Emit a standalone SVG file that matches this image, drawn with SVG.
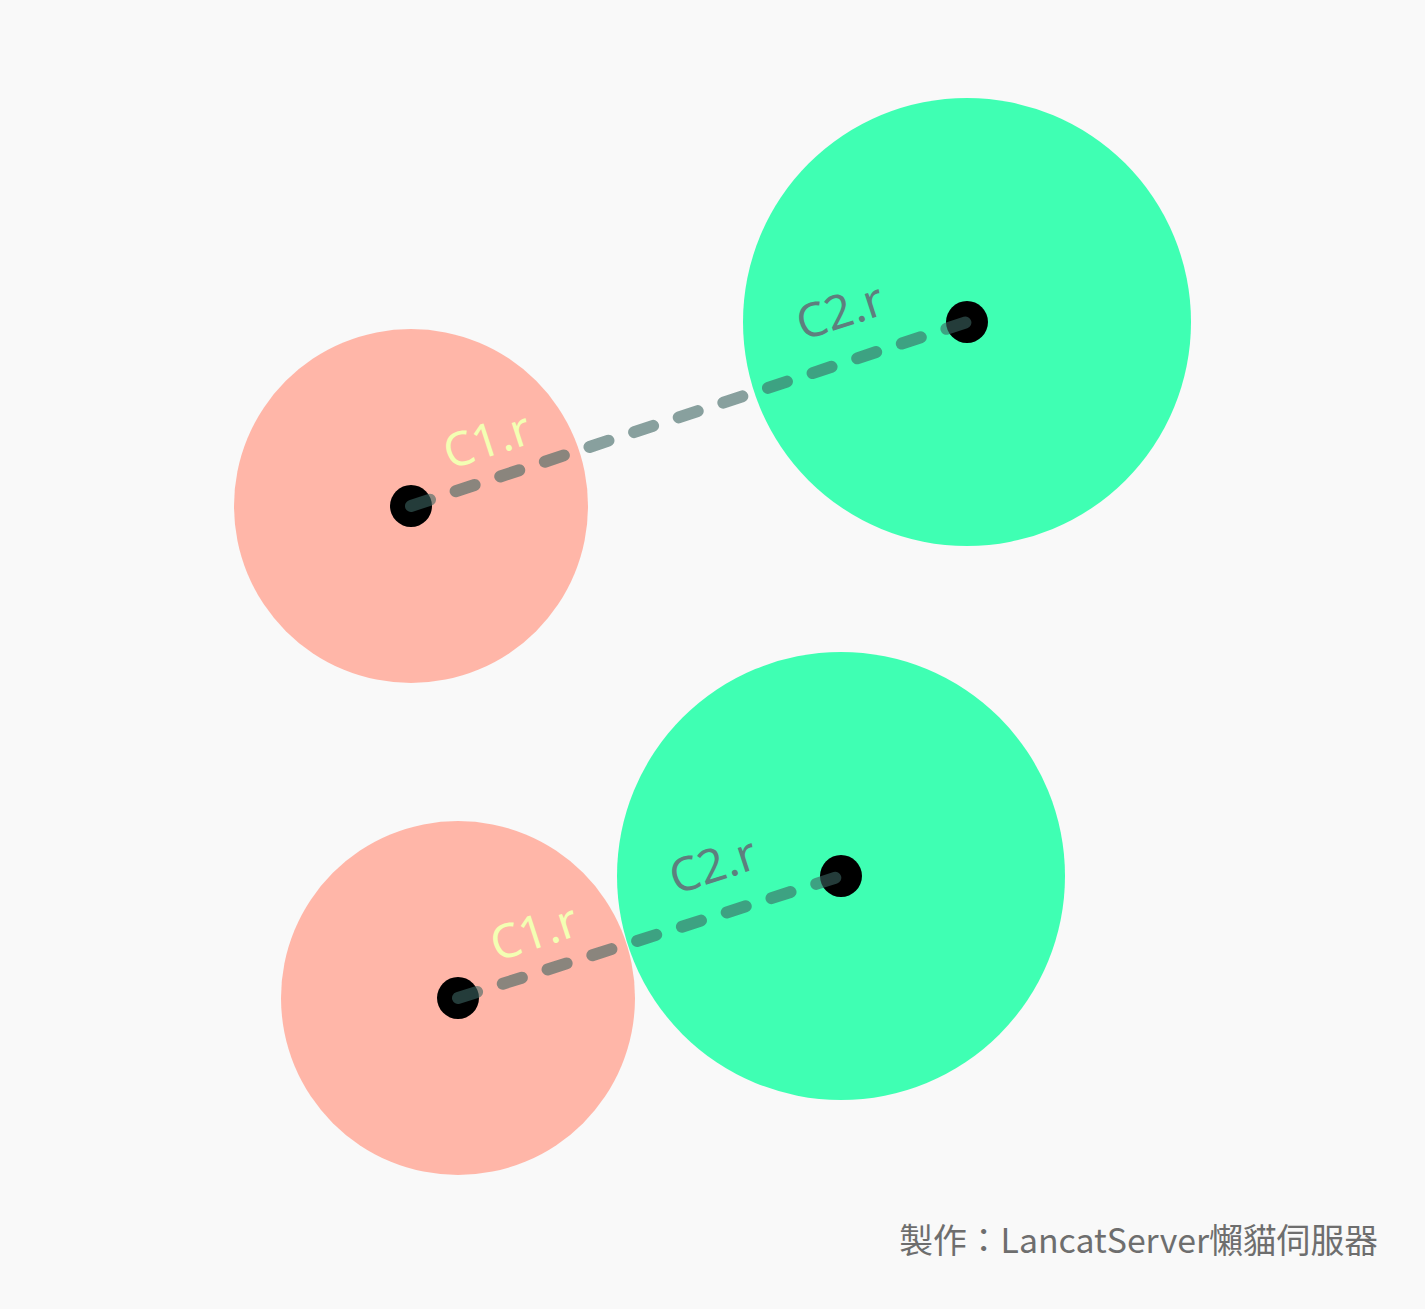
<svg xmlns="http://www.w3.org/2000/svg" width="1425" height="1309" viewBox="0 0 1425 1309">
<style>
.c1{fill:#FFB6A8}
.c2{fill:#3FFFB3}
.dot{fill:#000}
.ln{fill:none;stroke:rgb(60,100,96);stroke-opacity:0.6;stroke-width:12;stroke-linecap:round;stroke-dasharray:20 27}
.lab{font-family:"Noto Sans","Open Sans",sans-serif;font-size:47px;text-anchor:middle}
.l1{fill:#F3FFB3}
.l2{fill:#5E7F7E}
.foot{font-family:"Noto Sans CJK TC","Noto Sans",sans-serif;font-size:33.8px;fill:#6E6E6E;text-anchor:end}
</style>
<rect width="1425" height="1309" fill="#F9F9F9"/>
<g id="top-c1"><circle class="c1" cx="411" cy="506" r="177"/></g>
<g id="top-c2"><circle class="c2" cx="967" cy="322" r="224"/></g>
<g id="bot-c1"><circle class="c1" cx="458" cy="998" r="177"/></g>
<g id="bot-c2"><circle class="c2" cx="841" cy="876" r="224"/></g>
<g id="centers">
<circle class="dot" cx="411" cy="506" r="21"/>
<circle class="dot" cx="967" cy="322" r="21"/>
<circle class="dot" cx="458" cy="998" r="21"/>
<circle class="dot" cx="841" cy="876" r="21"/>
</g>
<g id="connectors">
<line class="ln" x1="411" y1="506" x2="967" y2="322"/>
<line class="ln" x1="458" y1="998" x2="841" y2="876"/>
</g>
<g id="labels">
<text class="lab l1" x="492" y="456" transform="rotate(-18 492 456)">C1.r</text>
<text class="lab l2" x="845" y="327" transform="rotate(-18 845 327)">C2.r</text>
<text class="lab l1" x="539" y="948" transform="rotate(-18 539 948)">C1.r</text>
<text class="lab l2" x="718" y="881" transform="rotate(-18 718 881)">C2.r</text>
</g>
<text class="foot" x="1378" y="1253">製作：LancatServer懶貓伺服器</text>
</svg>
